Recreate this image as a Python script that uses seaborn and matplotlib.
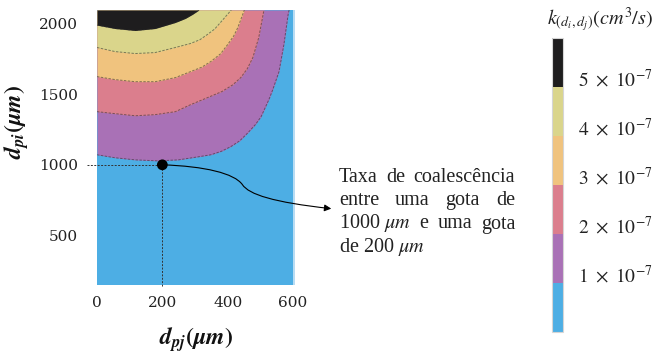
import matplotlib
matplotlib.use("Agg")
import matplotlib.pyplot as plt
import seaborn as sns
from matplotlib.colors import ListedColormap, BoundaryNorm
from matplotlib.cm import ScalarMappable
from matplotlib.path import Path
from matplotlib.patches import FancyArrowPatch

# Coalescence-rate levels (cm^3/s) and the colour of each band
levels = [0, 1e-7, 2e-7, 3e-7, 4e-7, 5e-7, 6e-7]
band_colors = ["#4DAEE4", "#A971B6", "#DB7E8D", "#F0C37E", "#DAD58B", "#1E1D1E"]
cbar_ticks = [1e-7, 2e-7, 3e-7, 4e-7, 5e-7]
cbar_ticklabels = [r"$1\ \times\ 10^{-7}$", r"$2\ \times\ 10^{-7}$", r"$3\ \times\ 10^{-7}$",
                   r"$4\ \times\ 10^{-7}$", r"$5\ \times\ 10^{-7}$"]

# Iso-rate curves: d_pj (x, um) against d_pi (y, um) for each level
k1_x = [0, 55, 117, 185, 249, 311, 348, 380, 409, 437, 462, 485, 502, 526, 538, 557, 572, 585, 588]
k1_y = [1071, 1050, 1035, 1028, 1035, 1057, 1071, 1095, 1128, 1170, 1227, 1285, 1340, 1461, 1532, 1659, 1851, 2064, 2095]
k2_x = [0, 55, 117, 178, 240, 286, 338, 382, 415, 440, 460, 477, 495, 511]
k2_y = [1376, 1362, 1347, 1355, 1376, 1425, 1475, 1518, 1565, 1617, 1680, 1759, 1900, 2095]
k3_x = [0, 55, 117, 178, 240, 286, 320, 348, 378, 400, 418, 431, 451]
k3_y = [1624, 1603, 1588, 1588, 1617, 1659, 1690, 1730, 1785, 1851, 1910, 1971, 2095]
k4_x = [0, 55, 117, 178, 240, 286, 315, 338, 360, 378, 411]
k4_y = [1830, 1801, 1787, 1794, 1830, 1858, 1885, 1922, 1960, 2007, 2095]
k5_x = [0, 55, 117, 178, 240, 270, 292, 312]
k5_y = [1988, 1964, 1950, 1964, 2007, 2035, 2064, 2095]
iso_curves = [(k1_x, k1_y), (k2_x, k2_y), (k3_x, k3_y), (k4_x, k4_y), (k5_x, k5_y)]

# Highlighted pair of drops: d_pj = 200 um, d_pi = 1000 um
pair_x = [200]
pair_y = [1000]

x_ticks = [0, 200, 400, 600]
y_ticks = [500, 1000, 1500, 2000]
X_LIM = (0, 606)
Y_LIM = (150, 2095)
X_DATA_MAX = 600

note_lines = [["Taxa", "de", "coalescência"],
              ["entre", "uma", "gota", "de"],
              [r"1000 $\mu m$", "e", "uma", "gota"],
              [r"de 200 $\mu m$"]]

sns.set_theme(style="white")
plt.rcParams["font.family"] = ["DejaVu Serif"]
plt.rcParams["mathtext.fontset"] = "stix"

W, H = 661, 355
fig = plt.figure(figsize=(W / 100, H / 100), dpi=100)
ax = fig.add_axes([97 / W, 1 - 285 / H, 198 / W, 275 / H])

# background band and the pale edge column
ax.axvspan(X_LIM[0], X_DATA_MAX, color=band_colors[0], lw=0)
ax.axvspan(X_DATA_MAX, X_LIM[1], color="#B8DCF3", lw=0)

for i, (cx, cy) in enumerate(iso_curves):
    ax.fill_between(cx, cy, Y_LIM[1], color=band_colors[i + 1], lw=0)
for cx, cy in iso_curves:
    sns.lineplot(x=cx, y=cy, ax=ax, color="#2b2b2b", lw=0.7, alpha=0.55,
                 linestyle=(0, (2.5, 1.5)), sort=False, estimator=None)

# guide lines to the axes
guide = dict(color="#333333", lw=0.7, linestyle=(0, (2, 1.5)), clip_on=False)
ax.plot([X_LIM[0] - 0.05 * (X_LIM[1] - X_LIM[0]), pair_x[0]], [pair_y[0], pair_y[0]], **guide)
ax.plot([pair_x[0], pair_x[0]], [pair_y[0], Y_LIM[0] - 15], **guide)
sns.scatterplot(x=pair_x, y=pair_y, ax=ax, color="black", s=60, edgecolor="none", zorder=5)

# curved leader from the point to the note
verts = [(pair_x[0], pair_y[0]), (330, 990), (420, 940), (445, 860),
         (465, 790), (540, 735), (717, 690)]
codes = [Path.MOVETO, Path.CURVE4, Path.CURVE4, Path.CURVE4,
         Path.CURVE4, Path.CURVE4, Path.CURVE4]
arrow = FancyArrowPatch(path=Path(verts, codes), arrowstyle="-|>", mutation_scale=10,
                        lw=0.8, color="black", transform=ax.transData)
ax.add_patch(arrow)
arrow.set_clip_on(False)

ax.set_xlim(*X_LIM)
ax.set_ylim(*Y_LIM)
ax.set_xticks(x_ticks)
ax.set_yticks(y_ticks)
ax.tick_params(axis="both", length=0, labelsize=11, colors="#222222")
ax.tick_params(axis="x", pad=8)
ax.tick_params(axis="y", pad=13.5)
for s in ax.spines.values():
    s.set_visible(False)

fig.text(17 / W, 1 - 122 / H,
         r"$\mathbfit{d}_{\mathbfit{pi}}\mathbf{(}\boldsymbol{\mu}\mathbfit{m}\mathbf{)}$",
         rotation=90, ha="center", va="center", fontsize=17, color="#111111")
fig.text(196 / W, 1 - 340 / H,
         r"$\mathbfit{d}_{\mathbfit{pj}}\mathbf{(}\boldsymbol{\mu}\mathbfit{m}\mathbf{)}$",
         ha="center", va="center", fontsize=17, color="#111111")

# colour bar
cax = fig.add_axes([552 / W, 1 - 332 / H, 11 / W, 294 / H])
cmap = ListedColormap(band_colors)
norm = BoundaryNorm(levels, cmap.N)
cb = fig.colorbar(ScalarMappable(norm=norm, cmap=cmap), cax=cax, ticks=cbar_ticks)
cb.set_ticklabels(cbar_ticklabels)
cb.outline.set_edgecolor("#d5d5d5")
cb.outline.set_linewidth(0.8)
cax.minorticks_off()
cax.tick_params(which="both", length=0, pad=11, labelsize=14, colors="#222222")
for lbl in cax.get_yticklabels():
    lbl.set_verticalalignment("baseline")
fig.text(547 / W, 1 - 20 / H, r"$k_{(d_i,d_j)}(cm^3/s)$", ha="left", va="center",
         fontsize=14.5, color="#222222")

# justified note beside the chart
fig.canvas.draw()
renderer = fig.canvas.get_renderer()
left_px, right_px = 339, 515
base_px, step_px = 181.5, 23.5
for i, words in enumerate(note_lines):
    yb = 1 - (base_px + i * step_px) / H
    arts = [fig.text(0, yb, w, fontsize=14.5, family="Liberation Serif",
                     va="baseline", ha="left", color="#222222") for w in words]
    widths = [a.get_window_extent(renderer).width for a in arts]
    last = i == len(note_lines) - 1
    gap = 5 if (last or len(words) == 1) else (right_px - left_px - sum(widths)) / (len(words) - 1)
    x = left_px
    for a, w in zip(arts, widths):
        a.set_x(x / W)
        x += w + gap

fig.savefig("out.png", dpi=100)
